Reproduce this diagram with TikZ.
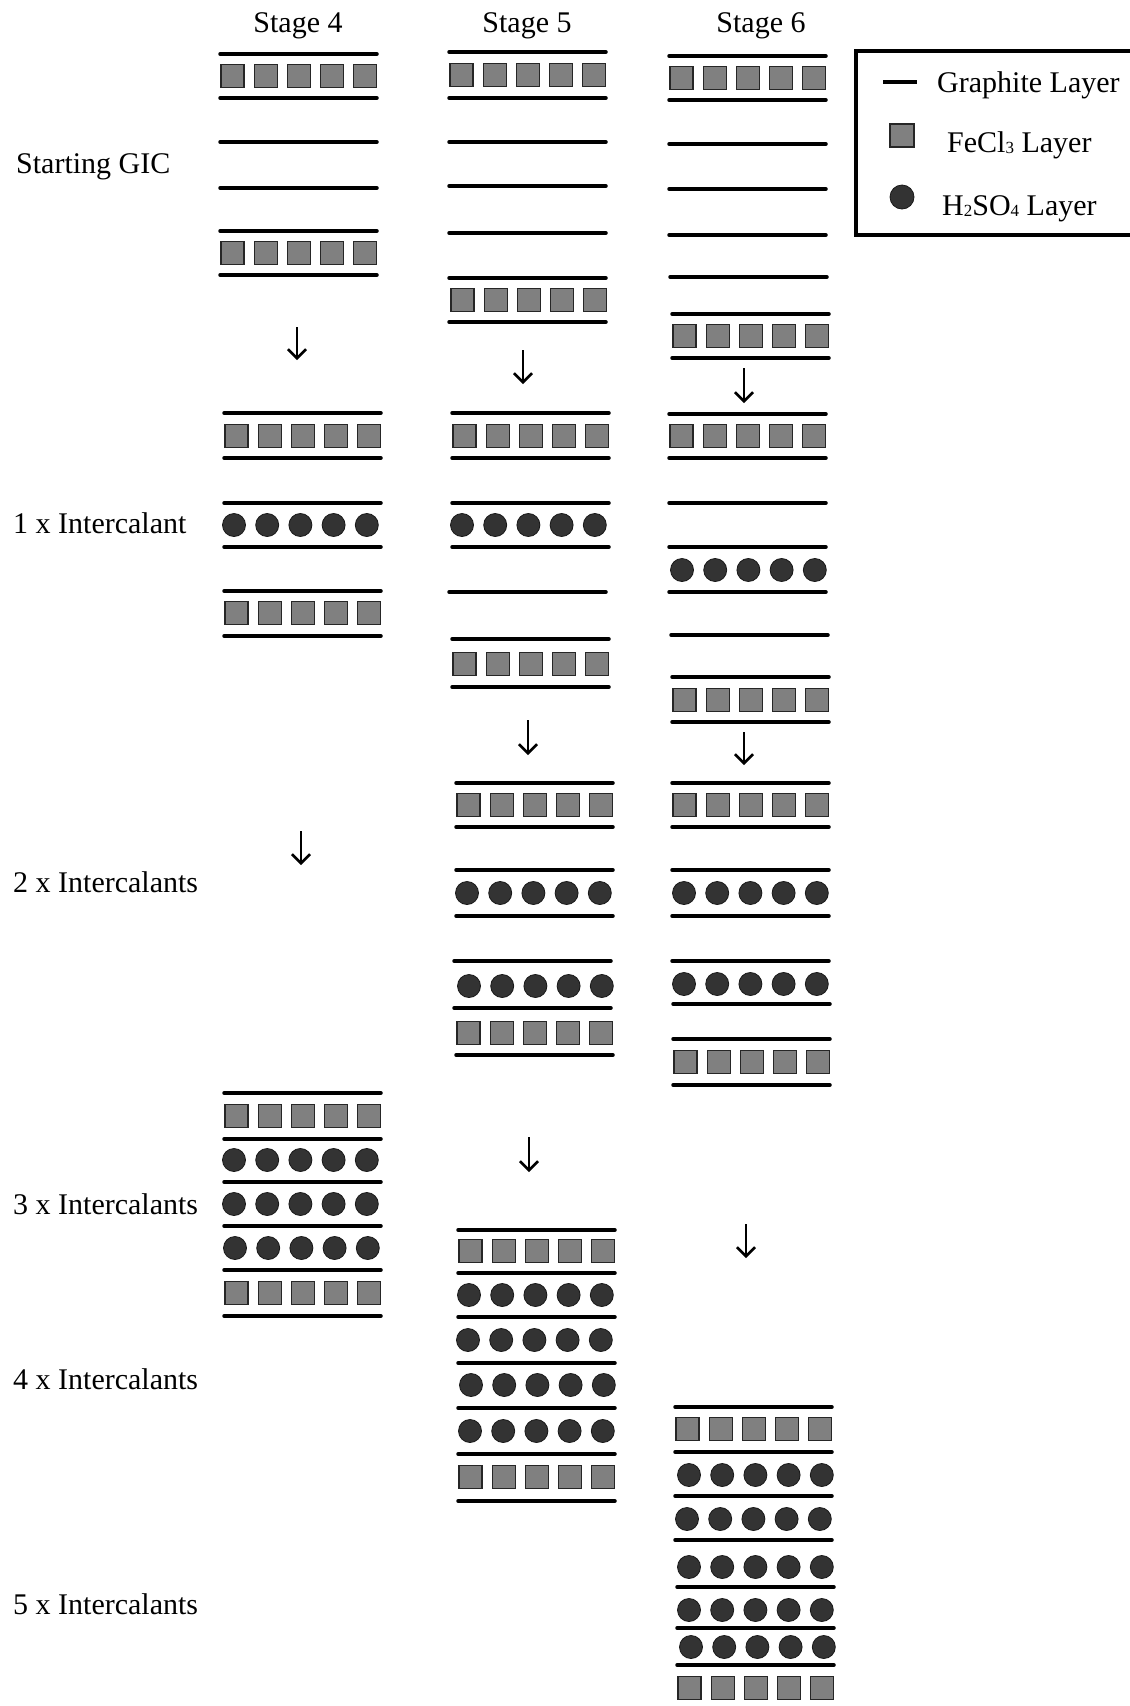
\documentclass[tikz,border=0pt]{standalone}
\usepackage{fontspec}
\setmainfont{Liberation Serif}
\usetikzlibrary{arrows.meta}
\definecolor{sqgray}{HTML}{808080}
\definecolor{cidark}{HTML}{333333}
\newcommand\lsub[1]{\raisebox{-1.5pt}{\fontsize{17}{17}\selectfont #1}}
\newcommand\gline[2]{\draw[gl] (#1,#2) -- ++(157,0);}
\newcommand\sqrow[2]{\foreach \i in {0,...,4}{\draw[sq] ({#1+1+33.2*\i},{#2-11.5}) rectangle ++(23,23);}}
\newcommand\cirow[2]{\foreach \i in {0,...,4}{\draw[ci] ({#1+12+33.2*\i},#2) circle[radius=11.5];}}
\tikzset{
  gl/.style={line width=3.5pt, line cap=round},
  sq/.style={fill=sqgray, draw=black!85, line width=1.2pt},
  ci/.style={fill=cidark, draw=black!90, line width=0.8pt},
  arr/.style={line width=2.6pt, -{Straight Barb[length=9pt,width=18pt,line width=2.6pt]}},
  lbl/.style={inner sep=0pt, anchor=base west, font=\fontsize{30}{36}\selectfont},
  hdr/.style={inner sep=0pt, anchor=base, font=\fontsize{30}{36}\selectfont}
}
\begin{document}
\begin{tikzpicture}[x=1pt,y=-1pt]
\useasboundingbox (0,0) rectangle (1130,1706);
\clip (0,0) rectangle (1130,1706);
\fill[white] (0,0) rectangle (1130,1706);
% headers
\node[hdr] (h4) at (298,32) {Stage 4};
\node[hdr] (h5) at (527,32) {Stage 5};
\node[hdr] (h6) at (761,32) {Stage 6};
% row labels
\node[lbl] (r0) at (16,173) {Starting GIC};
\node[lbl] (r1) at (13,533) {1 x Intercalant};
\node[lbl] (r2) at (13,892) {2 x Intercalants};
\node[lbl] (r3) at (13,1214) {3 x Intercalants};
\node[lbl] (r4) at (13,1389) {4 x Intercalants};
\node[lbl] (r5) at (13,1614) {5 x Intercalants};
% ===== Stage 4 =====
\foreach \y in {54,98,142,188,231,275} {\gline{220}{\y}}
\sqrow{220}{76} \sqrow{220}{253}
\draw[arr] (297,327) -- (297,360);
\foreach \y in {413,458,503,547,591,636} {\gline{224}{\y}}
\sqrow{224}{436} \cirow{222}{525} \sqrow{224}{613}
\draw[arr] (301,831) -- (301,865);
\foreach \y in {1093,1139,1182,1226,1270,1316} {\gline{224}{\y}}
\sqrow{224}{1116} \cirow{222}{1160} \cirow{222}{1204} \cirow{223}{1248} \sqrow{224}{1293}
% ===== Stage 5 =====
\foreach \y in {52,98,142,186,233,278,322} {\gline{449}{\y}}
\sqrow{449}{75} \sqrow{450}{300}
\draw[arr] (523,350) -- (523,384);
\foreach \y in {413,458,503,547,639,687} {\gline{452}{\y}}
\gline{449}{592}
\sqrow{452}{436} \cirow{450}{525} \sqrow{452}{664}
\draw[arr] (528,720) -- (528,755);
\foreach \y in {783,827,870,916,1055} {\gline{456}{\y}}
\gline{454}{961} \gline{454}{1008}
\sqrow{456}{805} \cirow{455}{893} \cirow{457}{986} \sqrow{456}{1033}
\draw[arr] (529,1137) -- (529,1172);
\foreach \y in {1230,1273,1317,1363,1408,1454,1501} {\gline{458}{\y}}
\sqrow{458}{1251} \cirow{457}{1295} \cirow{456}{1340} \cirow{459}{1385} \cirow{458}{1431} \sqrow{458}{1477}
% ===== Stage 6 =====
\foreach \y in {56,100,144,189,235} {\gline{669}{\y}}
\gline{670}{277} \gline{672}{314} \gline{672}{358}
\sqrow{669}{78} \sqrow{672}{336}
\draw[arr] (744,368) -- (744,403);
\foreach \y in {414,458,503,547,592} {\gline{669}{\y}}
\gline{671}{635} \gline{672}{677} \gline{672}{722}
\sqrow{669}{436} \cirow{670}{570} \sqrow{672}{700}
\draw[arr] (744,732) -- (744,765);
\foreach \y in {783,827,870,916,961} {\gline{672}{\y}}
\gline{673}{1004} \gline{673}{1039} \gline{673}{1085}
\sqrow{672}{805} \cirow{672}{893} \cirow{672}{984} \sqrow{673}{1062}
\draw[arr] (746,1224) -- (746,1258);
\foreach \y in {1407,1452,1496,1540} {\gline{675}{\y}}
\foreach \y in {1587,1628,1665} {\gline{677}{\y}}
\sqrow{675}{1429} \cirow{677}{1475} \cirow{675}{1519} \cirow{677}{1567} \cirow{677}{1610} \cirow{679}{1647} \sqrow{677}{1688}
% ===== Legend =====
\draw[line width=3.5pt] (1145,51) -- (856,51) -- (856,235) -- (1145,235);
\draw[gl, line cap=butt] (883,82) -- (917,82);
\draw[sq] (890,124) rectangle (914,147);
\draw[ci] (902,197) circle[radius=12];
\node[lbl] (lg1) at (937,92) {Graphite Layer};
\node[lbl] (lg2) at (947,152) {FeCl\lsub{3} Layer};
\node[lbl] (lg3) at (942,215) {H\lsub{2}SO\lsub{4} Layer};
\end{tikzpicture}
\end{document}
